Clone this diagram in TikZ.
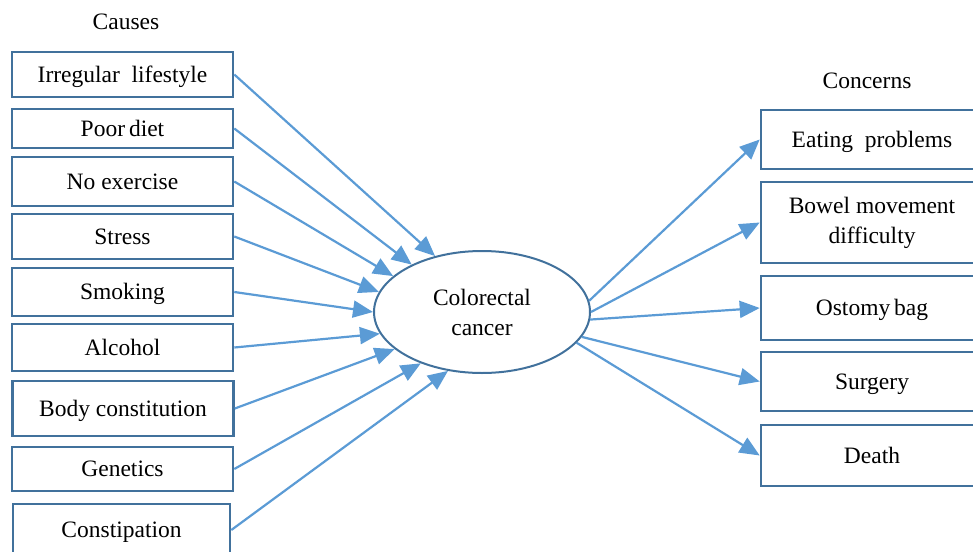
\documentclass[tikz,border=0pt]{standalone}
\usepackage{fontspec}
\setmainfont{Liberation Serif}
\usetikzlibrary{arrows.meta,shapes.geometric}
\definecolor{boxblue}{HTML}{41719C}
\definecolor{arrblue}{HTML}{5B9BD5}
\begin{document}
\begin{tikzpicture}[x=1pt,y=-1pt,
  txt/.style={font=\fontsize{23.5}{30}\selectfont, align=center},
  oneline/.style={text height=19pt, text depth=4pt},
  cause/.style={txt, oneline, draw=boxblue, line width=2.6pt, rectangle, minimum width=221pt, inner sep=0pt},
  concern/.style={txt, oneline, draw=boxblue, line width=2.6pt, rectangle, minimum width=222pt, inner sep=0pt},
  link/.style={draw=arrblue, line width=2.2pt, -{Triangle[length=20pt,width=17pt]}}]
\useasboundingbox (0,0) rectangle (973,551);
\clip (0,0) rectangle (973,551);
% titles
\node[txt] (tcauses) at (126,22) {Causes};
\node[txt] (tconcerns) at (867,81) {Concerns};
% causes
\node[cause, minimum height=45pt] (c1) at (122.5,74.5) {Irregular\ \ lifestyle};
\node[cause, minimum height=39pt] (c2) at (122.5,128.5) {Poor\,diet};
\node[cause, minimum height=49pt] (c3) at (122.5,181.5) {No exercise};
\node[cause, minimum height=45pt] (c4) at (122.5,236.5) {Stress};
\node[cause, minimum height=48pt] (c5) at (122.5,292) {Smoking};
\node[cause, minimum height=47pt] (c6) at (122.5,347.5) {Alcohol};
\node[cause, minimum height=55pt] (c7) at (123,408.5) {Body constitution};
\node[cause, minimum height=44pt] (c8) at (122.5,469) {Genetics};
\node[cause, minimum height=52pt, minimum width=217pt] (c9) at (121.5,530) {Constipation};
% center
\node[txt, ellipse, draw=boxblue, line width=2pt, minimum width=216pt, minimum height=122pt, inner sep=0pt] (cc) at (482,312) {Colorectal\\cancer};
% concerns
\node[concern, minimum height=59pt] (k1) at (872,139.5) {Eating\ \ problems};
\node[txt, draw=boxblue, line width=2.6pt, rectangle, minimum width=222pt, inner sep=0pt, minimum height=81pt] (k2) at (872,222.5) {Bowel movement\\difficulty};
\node[concern, minimum height=64pt] (k3) at (872,308) {Ostomy\,bag};
\node[concern, minimum height=59pt] (k4) at (872,381.5) {Surgery};
\node[concern, minimum height=61pt] (k5) at (872,455.5) {Death};
% causes -> cancer
\draw[link] (c1.east) -- (cc.130);
\draw[link] (c2.east) -- (cc.146);
\draw[link] (c3.east) -- (cc.158);
\draw[link] (c4.east) -- (cc.169);
\draw[link] (c5.east) -- (cc.180);
\draw[link] (c6.east) -- (cc.192);
\draw[link] (c7.east) -- (cc.203);
\draw[link] (c8.east) -- (cc.220);
\draw[link] (c9.east) -- (cc.240);
% cancer -> concerns
\draw[link] (cc.6) -- (k1.west);
\draw[link] (cc.0) -- (k2.west);
\draw[link] (cc.-4) -- (k3.west);
\draw[link] (cc.-14) -- (k4.west);
\draw[link] (cc.-18) -- (k5.west);
\end{tikzpicture}
\end{document}
